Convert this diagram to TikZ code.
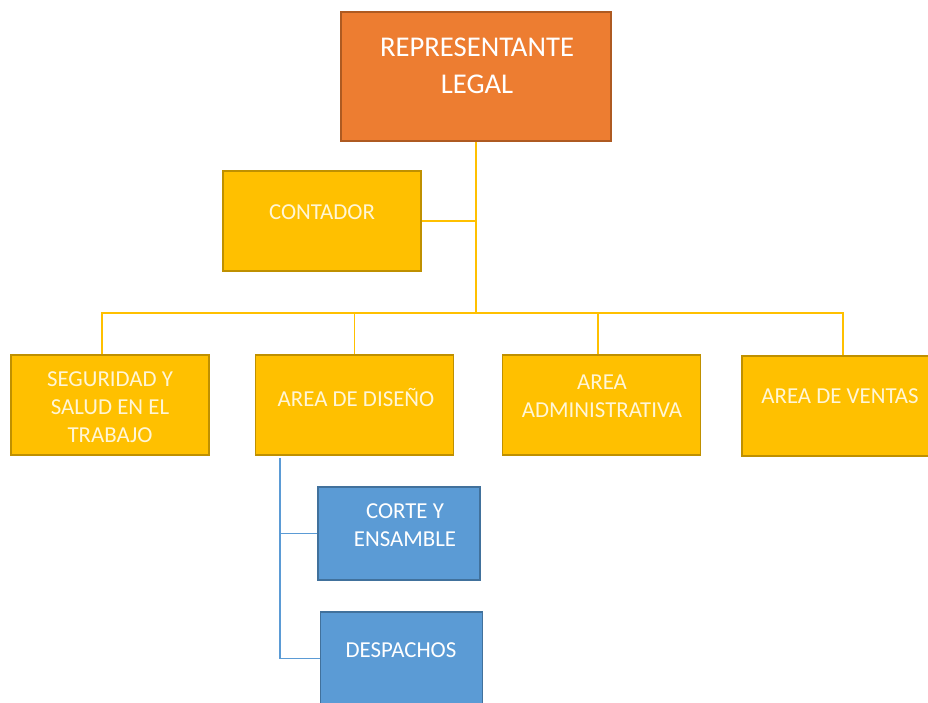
\documentclass[tikz,border=0pt]{standalone}
\usepackage{fontspec}
\setmainfont{Carlito}
\usepackage{tikz}
\definecolor{repfill}{RGB}{237,125,49}
\definecolor{repline}{RGB}{174,90,33}
\definecolor{areafill}{RGB}{255,192,0}
\definecolor{arealine}{RGB}{191,144,0}
\definecolor{areatext}{RGB}{255,246,214}
\definecolor{subfill}{RGB}{91,155,213}
\definecolor{subline}{RGB}{65,113,156}

\begin{document}
\begin{tikzpicture}[x=0.02cm, y=-0.02cm,
    box/.style={draw, line width=1.1pt, minimum width=3.96cm, minimum height=2cm, inner sep=0pt},
    repbox/.style={box, fill=repfill, draw=repline},
    areabox/.style={box, fill=areafill, draw=arealine},
    subbox/.style={box, fill=subfill, draw=subline, minimum width=3.24cm, minimum height=1.86cm},
    txt/.style={align=center, inner sep=0pt, font=\fontsize{13}{16}\selectfont},
    yline/.style={draw=areafill, line width=1.1pt},
    bline/.style={draw=subfill, line width=0.6pt}]
    \useasboundingbox (0,0) rectangle (928,702);

    % top
    \node[repbox, minimum width=5.4cm, minimum height=2.58cm] (rep) at (476,76.5) {};
    \node[txt, text=white, font=\fontsize{16.3}{21}\selectfont] (rep-t) at (477,66) {REPRESENTANTE\\LEGAL};

    % staff
    \node[areabox] (cont) at (322,221) {};
    \node[txt, text=areatext] (cont-t) at (322,212) {CONTADOR};

    % areas
    \node[areabox] (seg) at (110,405) {};
    \node[areabox] (dis) at (354.5,405) {};
    \node[areabox] (adm) at (601.5,405) {};
    \node[areabox] (ven) at (841,406) {};
    \node[txt, text=areatext] (seg-t) at (110,407) {SEGURIDAD Y\\SALUD EN EL\\TRABAJO};
    \node[txt, text=areatext] (dis-t) at (356,397) {AREA DE DISEÑO};
    \node[txt, text=areatext] (adm-t) at (602,396) {AREA\\ADMINISTRATIVA};
    \node[txt, text=areatext] (ven-t) at (840,396) {AREA DE VENTAS};

    % design sub-units
    \node[subbox] (cor) at (399,533.5) {};
    \node[subbox] (des) at (401.5,658.5) {};
    \node[txt, text=white] (cor-t) at (405,525) {CORTE Y\\ENSAMBLE};
    \node[txt, text=white] (des-t) at (401,650) {DESPACHOS};

    % connectors
    \coordinate (bus) at (476,313);
    \coordinate (blue) at (280,0);
    \draw[yline] (rep.south) -- (bus);
    \draw[yline] (cont.east) -- (cont.east -| bus);
    \draw[yline] ([xshift=-0.16cm]seg.north) |- (bus);
    \draw[yline] ([xshift=0.04cm]ven.north) |- (bus);
    \draw[yline] (dis.north) -- (dis.north |- bus);
    \draw[yline] ([xshift=-0.07cm]adm.north) -- ([xshift=-0.07cm]adm.north |- bus);
    \draw[bline] ([yshift=-0.04cm]dis.south -| blue) |- (des.west);
    \draw[bline] (cor.west) -- (cor.west -| blue);
\end{tikzpicture}
\end{document}
